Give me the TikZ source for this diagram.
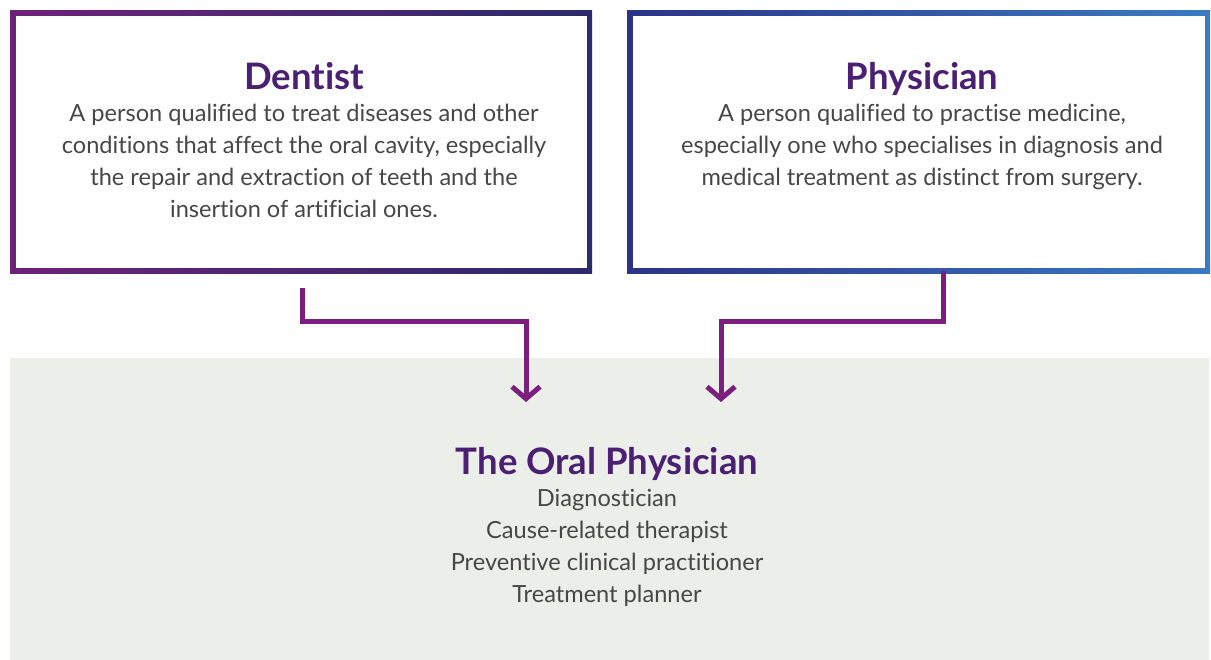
\documentclass[tikz,border=0pt]{standalone}
\usepackage{fontspec}
\setmainfont{Lato}[Ligatures=NoCommon]
\usetikzlibrary{arrows.meta}
\definecolor{titlec}{HTML}{4B1F72}
\definecolor{bodyc}{HTML}{474747}
\definecolor{linec}{HTML}{7A1F7E}
\definecolor{greybg}{HTML}{ECEEE9}
\definecolor{bA}{HTML}{6E2277}
\definecolor{bB}{HTML}{2B2A6C}
\definecolor{bC}{HTML}{2B3388}
\definecolor{bD}{HTML}{3B7AC4}
\tikzset{
  ttl/.style={font=\bfseries\fontsize{36.5}{40}\selectfont, text=titlec, inner sep=0pt, anchor=base},
  bodytxt/.style={font=\fontsize{23.6}{32}\selectfont, text=bodyc, align=center, inner sep=0pt, anchor=north},
  conn/.style={draw=linec, line width=5pt, -{Straight Barb[length=12pt,width=28pt,line width=5pt]}},
  frame/.style={minimum width=572pt, minimum height=253pt, inner sep=0pt}
}
\begin{document}
\begin{tikzpicture}[x=1pt,y=-1pt]
\useasboundingbox (0,0) rectangle (1211,660);
\fill[white] (0,0) rectangle (1211,660);
% grey panel
\fill[greybg] (10,358) rectangle (1209,660);
% box frames (gradient borders)
\shade[left color=bA, right color=bB] (10,11) rectangle (592,274);
\fill[white] (15.5,16.5) rectangle (586.5,268.5);
\shade[left color=bC, right color=bD] (627,11) rectangle (1210,274);
\fill[white] (632.5,16.5) rectangle (1204.5,268.5);
\node[frame] (dentist) at (301,142.5) {};
\node[frame] (physician) at (918.5,142.5) {};
\node[frame, minimum width=1199pt, minimum height=302pt] (oral) at (609.5,509) {};
% texts
\node[ttl] (dT) at (304,89.5) {Dentist};
\node[bodytxt] (dB) at (304,104) {A person qualified to treat diseases and other\\conditions that affect the oral cavity, especially\\the repair and extraction of teeth and the\\insertion of artificial ones.};
\node[ttl] (pT) at (922,89.5) {Physician};
\node[bodytxt] (pB) at (922,104) {A person qualified to practise medicine,\\especially one who specialises in diagnosis and\\medical treatment as distinct from surgery.};
\node[ttl] (oT) at (607,474) {The Oral Physician};
\node[bodytxt] (oB) at (607,489) {Diagnostician\\Cause-related therapist\\Preventive clinical practitioner\\Treatment planner};
% connectors
\coordinate (s1) at (302,288);
\coordinate (t1) at (526,402);
\coordinate (s2) at (943,271);
\coordinate (t2) at (721,402);
\draw[conn] (s1) |- (526,322) -- (t1);
\draw[conn] (s2) |- (721,322) -- (t2);
\end{tikzpicture}
\end{document}
